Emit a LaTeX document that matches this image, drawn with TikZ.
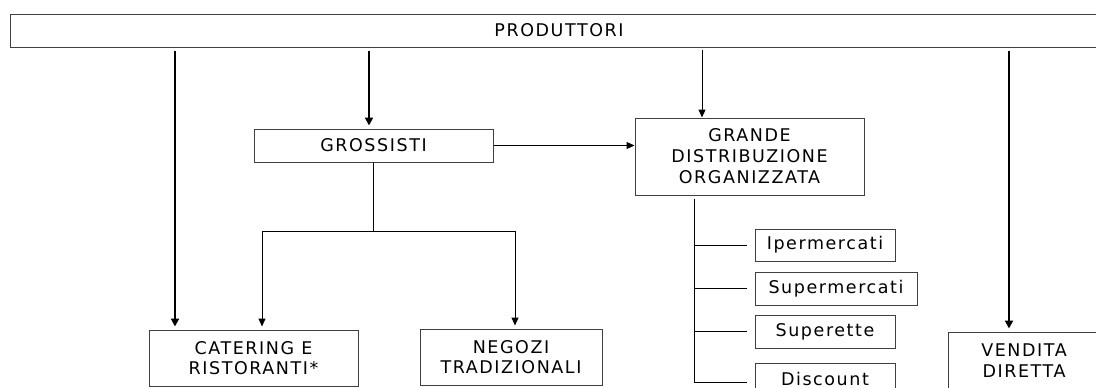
\documentclass[tikz,border=0pt]{standalone}
\usepackage{fontspec}
\setmainfont{DejaVu Sans}[LetterSpace=9]
\usetikzlibrary{arrows.meta}
\begin{document}
\begin{tikzpicture}[x=1pt,y=-1pt,
  box/.style={draw=black!75, line width=1pt, inner sep=0pt, align=center,
    font=\fontsize{17.5}{20.5}\selectfont},
  thickarr/.style={line width=2pt, -{Triangle[length=8pt,width=8pt]},
    shorten <=3pt, shorten >=3pt},
  thinarr/.style={line width=1pt, -{Triangle[length=8pt,width=7pt]}},
  ln/.style={line width=1pt}]
\clip (0,0) rectangle (1096,388);
\node[box, minimum width=1098pt, minimum height=33pt] (prod) at (559,30.5) {PRODUTTORI};
\node[box, minimum width=239pt, minimum height=33pt] (gros) at (373.5,145.5) {GROSSISTI};
\node[box, minimum width=229pt, minimum height=77pt, font=\fontsize{17.5}{21}\selectfont] (gdo) at (749.5,156.5) {GRANDE\\DISTRIBUZIONE\\ORGANIZZATA};
\node[box, minimum width=209pt, minimum height=56pt] (cat) at (253.5,358) {CATERING E\\RISTORANTI*};
\node[box, minimum width=182pt, minimum height=56pt] (neg) at (511,357) {NEGOZI\\TRADIZIONALI};
\node[box, minimum width=152pt, minimum height=57pt] (vend) at (1024,360.5) {VENDITA\\DIRETTA};
\node[box, minimum width=140pt, minimum height=32pt] (iper) at (825,245) {Ipermercati};
\node[box, minimum width=162pt, minimum height=33pt] (superm) at (836,288.5) {Supermercati};
\node[box, minimum width=140pt, minimum height=33pt] (superette) at (825,331.5) {Superette};
\node[box, minimum width=140pt, minimum height=31pt] (disc) at (825,378.5) {Discount};
\coordinate (x1) at (175,0);
\coordinate (x2) at (369,0);
\coordinate (x3) at (702,0);
\coordinate (x4) at (1009,0);
\coordinate (xa) at (262,0);
\coordinate (xb) at (515,0);
\coordinate (xt) at (694,0);
\coordinate (jy) at (0,231);
\coordinate (dy) at (0,382);
\draw[thickarr] (prod.south -| x1) -- (cat.north -| x1);
\draw[thickarr] (prod.south -| x2) -- (gros.north -| x2);
\draw[thickarr] (prod.south -| x4) -- (vend.north -| x4);
\draw[thinarr, shorten <=2pt] (prod.south -| x3) -- (gdo.north -| x3);
\draw[thinarr] (gros.east) -- (gdo.west |- gros.east);
\draw[ln] (gros.south) -- (gros.south |- jy);
\draw[ln] (xa |- jy) -- (xb |- jy);
\draw[thinarr, shorten >=3pt] (xa |- jy) -- (cat.north -| xa);
\draw[thinarr, shorten >=3pt] (xb |- jy) -- (neg.north -| xb);
\draw[ln, shorten <=3pt] (gdo.south -| xt) -- (xt |- dy);
\foreach \b in {iper,superm,superette}
  \draw[ln, shorten >=8pt] (xt |- \b.west) -- (\b.west);
\draw[ln, shorten >=8pt] (xt |- dy) -- (disc.west |- dy);
\end{tikzpicture}
\end{document}
